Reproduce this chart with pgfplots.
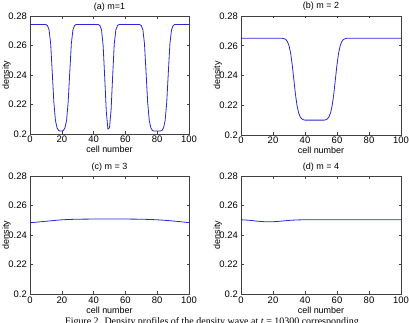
\documentclass[border=0pt]{standalone}
\usepackage{pgfplots}
\pgfplotsset{compat=1.18}
\usepackage{fontspec}
\setmainfont{Liberation Sans}
\newfontfamily\captionfont{Liberation Serif}

\definecolor{wave}{RGB}{40,40,215}

\pgfplotsset{
  densityaxis/.style={
    scale only axis,
    anchor=south west,
    xmin=0, xmax=100,
    ymin=0.2, ymax=0.28,
    xtick={0,20,...,100},
    ytick={0.2,0.22,0.24,0.26,0.28},
    yticklabels={0.2,0.22,0.24,0.26,0.28},
    tick align=inside,
    xtick pos=both, ytick pos=both,
    major tick length=2.5bp,
    axis line style={black!75, line width=0.6bp},
    tick style={black!75, line width=0.5bp},
    /pgf/number format/assume math mode=true,
    ticklabel style={font=\fontsize{9.5}{10}\selectfont},
    xticklabel style={anchor=base, yshift=-9bp, inner sep=0pt},
    yticklabel style={anchor=east, xshift=-3bp, inner sep=0pt},
    every axis x label/.style={at={(axis description cs:0.5,0)}, yshift=-19bp, anchor=base, font=\fontsize{9}{10}\selectfont},
    every axis y label/.style={at={(axis description cs:0,0.5)}, xshift=-21bp, rotate=90, anchor=base, font=\fontsize{9}{10}\selectfont},
    every axis title/.style={at={(axis description cs:0.5,1)}, yshift=7bp, anchor=base, font=\fontsize{9}{10}\selectfont},
    xlabel={cell number},
    ylabel={density},
  },
  wavestyle/.style={wave, line width=0.8bp, mark=none},
}

\begin{document}
\begin{tikzpicture}
\useasboundingbox (0bp,0bp) rectangle (409bp,323bp);
\clip (0bp,0bp) rectangle (409bp,323bp);

% (a) m = 1: three low-density regions
\begin{axis}[densityaxis, at={(30bp,189bp)}, width=159bp, height=118bp, title={(a) m=1}]
\addplot[wavestyle] coordinates {
 (0,0.2742) (10,0.2742) (11,0.2735) (12,0.2706) (13,0.2612) (14,0.2417)
 (15,0.2215) (16,0.2092) (17,0.2042) (18,0.2024) (19,0.2020) (20,0.2020)
 (21,0.2024) (22,0.2042) (23,0.2092) (24,0.2215) (25,0.2417) (26,0.2612)
 (27,0.2706) (28,0.2735) (29,0.2742)
 (43,0.2742) (44,0.2735) (45,0.2706) (46,0.2598) (47,0.2381) (48,0.2150)
 (49,0.2034) (50,0.2042) (51,0.2164) (52,0.2395) (53,0.2612) (54,0.2706)
 (55,0.2735) (56,0.2742)
 (69,0.2742) (70,0.2735) (71,0.2706) (72,0.2612) (73,0.2417) (74,0.2215)
 (75,0.2092) (76,0.2042) (77,0.2024) (78,0.2020) (82,0.2020) (83,0.2024)
 (84,0.2042) (85,0.2092) (86,0.2215) (87,0.2417) (88,0.2612) (89,0.2706)
 (90,0.2735) (91,0.2742) (100,0.2742)
};
\end{axis}

% (b) m = 2: one wide low-density region
\begin{axis}[densityaxis, at={(241bp,188bp)}, width=160bp, height=119bp, title={(b) m = 2}]
\addplot[wavestyle] coordinates {
 (0,0.2650) (26,0.2650) (27,0.26473) (28,0.26418) (29,0.2628) (30,0.26005)
 (31,0.2551) (32,0.2474) (33,0.2375) (34,0.2276) (35,0.2199) (36,0.21495)
 (37,0.2122) (38,0.21083) (39,0.21028) (40,0.2100)
 (52,0.2100) (53,0.21028) (54,0.21083) (55,0.2122) (56,0.21495) (57,0.2199)
 (58,0.2276) (59,0.2375) (60,0.2474) (61,0.2551) (62,0.26005) (63,0.2628)
 (64,0.26418) (65,0.26473) (66,0.2650) (100,0.2650)
};
\end{axis}

% (c) m = 3: nearly uniform
\begin{axis}[densityaxis, at={(30bp,29bp)}, width=159bp, height=118bp, title={(c) m = 3}]
\addplot[wavestyle, smooth] coordinates {
 (0,0.2483) (10,0.2493) (20,0.2503) (30,0.2507) (40,0.2508) (50,0.2508)
 (60,0.2508) (70,0.2507) (80,0.2503) (90,0.2495) (100,0.2484)
};
\end{axis}

% (d) m = 4: nearly uniform with a shallow dip
\begin{axis}[densityaxis, at={(241bp,29bp)}, width=160bp, height=118bp, title={(d) m = 4}]
\addplot[wavestyle, smooth] coordinates {
 (0,0.2503) (5,0.2500) (10,0.2494) (15,0.2490) (20,0.2490) (25,0.2494)
 (30,0.2499) (35,0.2502) (40,0.2503) (60,0.2503) (80,0.2503) (100,0.2503)
};
\end{axis}

\node[anchor=base, font=\captionfont\fontsize{10}{12}\selectfont] at (212bp,-1.6bp)
  {Figure 2. Density profiles of the density wave at \textit{t} = 10300 corresponding};
\end{tikzpicture}
\end{document}
